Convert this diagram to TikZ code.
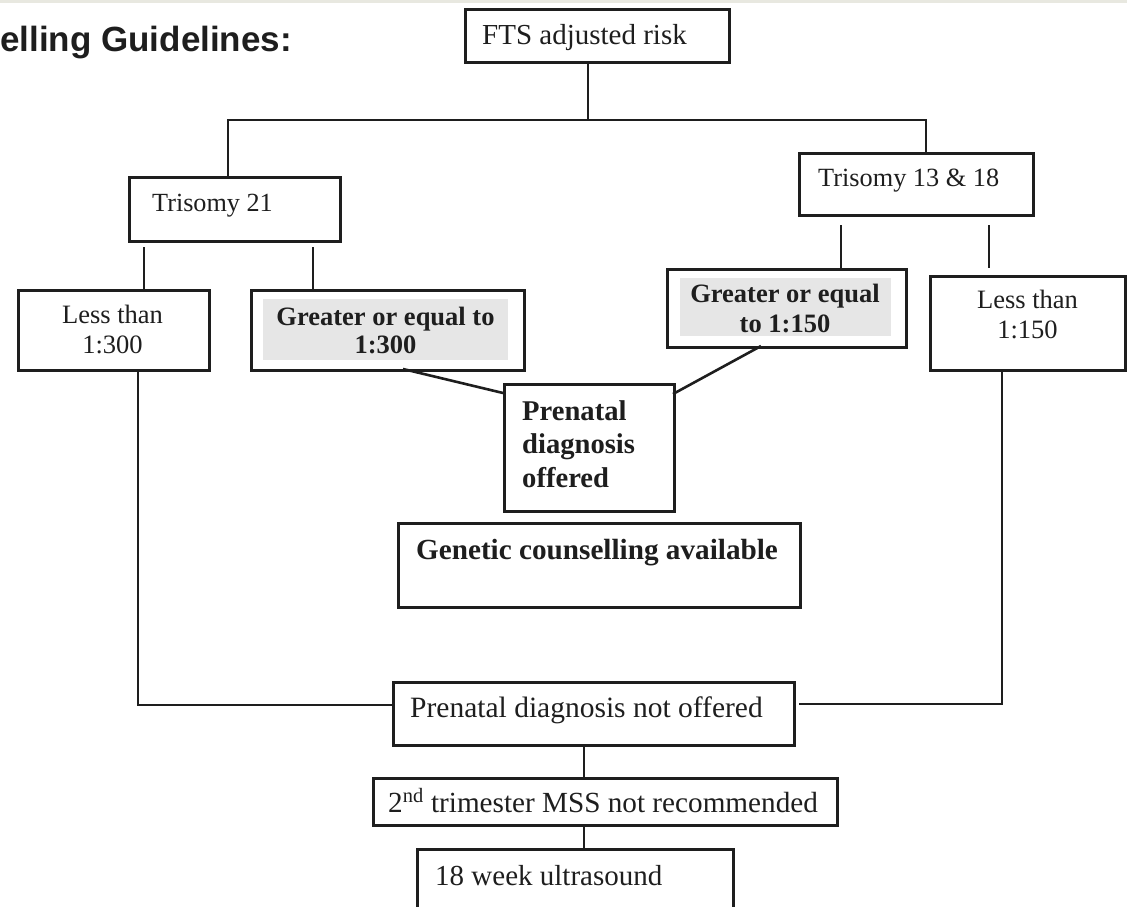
\documentclass[tikz,border=0pt]{standalone}
\usepackage{fontspec}
\setmainfont{Liberation Serif}
\newfontfamily\titlefont{Liberation Sans}
\definecolor{ink}{HTML}{1E1E1E}
\definecolor{shade}{HTML}{E6E6E6}
\definecolor{band}{HTML}{E8E8E0}
\tikzset{
  box/.style={draw=ink, line width=2.6pt, fill=white, inner sep=0pt, anchor=north west},
  shadebox/.style={fill=shade, inner sep=0pt, anchor=north west},
  wire/.style={draw=ink, line width=2.6pt},
  txt/.style={inner sep=0pt, text=ink, anchor=base, font=\fontsize{#1}{#1}\selectfont},
  txt/.default=29,
}
\begin{document}
\begin{tikzpicture}[x=1pt,y=-1pt]
\useasboundingbox (0,0) rectangle (1127,907);
\clip (0,0) rectangle (1127,907);
\fill[band] (0,0) rectangle (1127,3);

% title
\node[inner sep=0pt, anchor=base west, text=ink, font=\titlefont\bfseries\fontsize{35}{35}\selectfont] (title) at (0,52) {elling Guidelines:};

% boxes
\node[box, minimum width=264pt, minimum height=53pt] (fts) at (464,8) {};
\node[box, minimum width=211pt, minimum height=64pt] (t21) at (128,176) {};
\node[box, minimum width=234pt, minimum height=62pt] (t1318) at (798,152) {};
\node[box, minimum width=191pt, minimum height=80pt] (lt300) at (17,289) {};
\node[box, minimum width=273pt, minimum height=80pt] (ge300) at (250,289) {};
\node[shadebox, minimum width=245pt, minimum height=61pt] (ge300bg) at (263,299) {};
\node[box, minimum width=239pt, minimum height=78pt] (ge150) at (666,268) {};
\node[shadebox, minimum width=211pt, minimum height=58pt] (ge150bg) at (680,278) {};
\node[box, minimum width=195pt, minimum height=94pt] (lt150) at (929,275) {};
\node[box, minimum width=170pt, minimum height=127pt] (pdo) at (503,383) {};
\node[box, minimum width=402pt, minimum height=84pt] (gca) at (397,522) {};
\node[box, minimum width=401pt, minimum height=63pt] (pdno) at (392,681) {};
\node[box, minimum width=464pt, minimum height=47pt] (mss) at (372,777) {};
\node[box, minimum width=316pt, minimum height=80pt] (us18) at (416,848) {};

% texts
\node[txt=29, anchor=base west] (ftst) at (482,45) {FTS adjusted risk};
\node[txt=26.2, anchor=base west] (t21t) at (152,211) {Trisomy 21};
\node[txt=26.3, anchor=base west] (t1318t) at (818,186) {Trisomy 13 \& 18};
\node[txt=26.5] (lt300a) at (112.5,323) {Less than};
\node[txt=26.5] (lt300b) at (112.5,353) {1:300};
\node[txt=26.5] (ge300a) at (385.5,325) {\bfseries Greater or equal to};
\node[txt=26.5] (ge300b) at (385.5,353) {\bfseries 1:300};
\node[txt=26.5] (ge150a) at (785,302) {\bfseries Greater or equal};
\node[txt=26.5] (ge150b) at (785,332) {\bfseries to 1:150};
\node[txt=26.5] (lt150a) at (1027.5,308) {Less than};
\node[txt=26.5] (lt150b) at (1027.5,338) {1:150};
\node[txt=28.6, anchor=base west] (pdoa) at (522,420) {\bfseries Prenatal};
\node[txt=28.6, anchor=base west] (pdob) at (522,453) {\bfseries diagnosis};
\node[txt=28.6, anchor=base west] (pdoc) at (522,487) {\bfseries offered};
\node[txt=29.2] (gcat) at (597,559) {\bfseries Genetic counselling available};
\node[txt=29.5, anchor=base west] (pdnot) at (410,717) {Prenatal diagnosis not offered};
\node[txt=29.2, anchor=base west] (msst) at (388,812) {2\textsuperscript{nd} trimester MSS not recommended};
\node[txt=29, anchor=base west] (us18t) at (435,885) {18 week ultrasound};

% connector coordinates
\coordinate (j) at (588,120);
\coordinate (jl) at (228,120);
\coordinate (jr) at (926,120);
\coordinate (a1) at (144,247);
\coordinate (a2) at (313,247);
\coordinate (b1) at (841,225);
\coordinate (b2) at (989,225);
\coordinate (b2e) at (989,268);
\coordinate (g3) at (403,369);
\coordinate (g3e) at (503,393);
\coordinate (g1) at (761,346);
\coordinate (g1e) at (673,394);
\coordinate (l3) at (138,369);
\coordinate (l3c) at (138,705);
\coordinate (l3e) at (392,705);
\coordinate (l1) at (1002,369);
\coordinate (l1c) at (1002,704);
\coordinate (l1e) at (799,704);
\coordinate (m) at (584,744);

% connectors
\draw[wire] (fts.south -| j) -- (j);
\draw[wire] (jl |- t21.north) -- (jl) -- (jr) -- (jr |- t1318.north);
\draw[wire] (a1) -- (a1 |- lt300.north);
\draw[wire] (a2) -- (a2 |- ge300.north);
\draw[wire] (b1) -- (b1 |- ge150.north);
\draw[wire] (b2) -- (b2e);
\draw[wire] (g3) -- (g3e);
\draw[wire] (g1) -- (g1e);
\draw[wire] (l3) -- (l3c) -- (l3e);
\draw[wire] (l1) -- (l1c) -- (l1e);
\draw[wire] (m) -- (m |- mss.north);
\draw[wire] (m |- mss.south) -- (m |- us18.north);
\end{tikzpicture}
\end{document}
